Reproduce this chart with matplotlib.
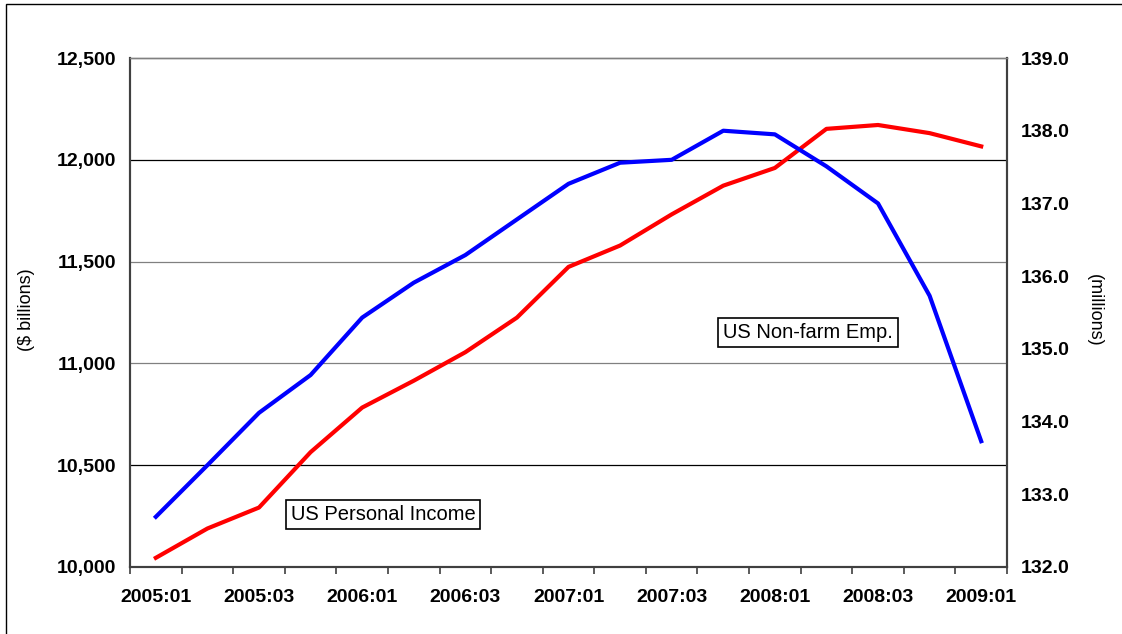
import matplotlib.pyplot as plt
from matplotlib.patches import Rectangle

plt.rcParams['font.family'] = ['Liberation Sans', 'DejaVu Sans']

quarters = ['2005:01', '2005:02', '2005:03', '2005:04',
            '2006:01', '2006:02', '2006:03', '2006:04',
            '2007:01', '2007:02', '2007:03', '2007:04',
            '2008:01', '2008:02', '2008:03', '2008:04', '2009:01']

# US personal income, $ billions (left axis)
income = [10045, 10189, 10292, 10564, 10783, 10915, 11055, 11225,
          11474, 11579, 11732, 11873, 11960, 12152, 12171, 12131, 12066]

# US non-farm employment, millions (right axis)
employment = [132.69, 133.40, 134.12, 134.64, 135.43, 135.91, 136.29, 136.78,
              137.27, 137.56, 137.60, 138.00, 137.95, 137.51, 137.00, 135.73, 133.73]

left_ticks = [10000, 10500, 11000, 11500, 12000, 12500]
right_ticks = [132.0, 133.0, 134.0, 135.0, 136.0, 137.0, 138.0, 139.0]

x = list(range(len(quarters)))

fig = plt.figure(figsize=(11.22, 6.34), dpi=100)
ax = fig.add_axes([0.1159, 0.1057, 0.7816, 0.8028])

# outer frame
fig.patches.append(Rectangle((0.0055, -0.05), 1.1, 1.044, transform=fig.transFigure,
                             fill=False, edgecolor='black', linewidth=1.0))

# horizontal gridlines
grid_colors = {10500: 'black', 11000: '#808080', 11500: '#808080', 12000: 'black'}
for v, c in grid_colors.items():
    ax.axhline(v, color=c, linewidth=0.9, zorder=1)

ax.plot(x, income, color='#ff0000', linewidth=3.0, zorder=3)
ax.set_xlim(-0.5, len(quarters) - 0.5)
ax.set_ylim(10000, 12500)
ax.set_yticks(left_ticks)
ax.set_yticklabels([f'{v:,}' for v in left_ticks])
ax.set_ylabel('($ billions)', fontsize=13)
ax.yaxis.set_label_coords(-0.108, 0.505)

ax2 = ax.twinx()
ax2.plot(x, employment, color='#0000ff', linewidth=3.0, zorder=3)
ax2.set_ylim(132, 139)
ax2.set_yticks(right_ticks)
ax2.set_yticklabels([f'{v:.1f}' for v in right_ticks])
ax2.set_ylabel('(millions)', fontsize=13, rotation=270, va='center')
ax2.yaxis.set_label_coords(1.100, 0.505)

# category axis: ticks at boundaries, labels every second quarter
ax.set_xticks([i - 0.5 for i in range(len(quarters) + 1)], minor=True)
ax.set_xticks(x[::2])
ax.set_xticklabels(quarters[::2])
ax.tick_params(axis='x', which='major', length=0, pad=16)
ax.tick_params(axis='x', which='minor', length=5, width=1.2, color='#404040')

for a in (ax, ax2):
    a.tick_params(axis='y', length=0, pad=10)
    for lbl in a.get_yticklabels() + a.get_xticklabels():
        lbl.set_fontsize(14)
        lbl.set_fontweight('bold')
    for side in ('left', 'right', 'bottom'):
        a.spines[side].set_color('#404040')
        a.spines[side].set_linewidth(1.5)
    a.spines['top'].set_color('#808080')
    a.spines['top'].set_linewidth(1.0)

ax.text(0.2885, 0.104, 'US Personal Income', transform=ax.transAxes, fontsize=14.5,
        ha='center', va='center', zorder=5,
        bbox=dict(boxstyle='square,pad=0.25', facecolor='white', edgecolor='black', linewidth=1.2))
ax2.text(0.773, 0.46, 'US Non-farm Emp.', transform=ax.transAxes, fontsize=14.5,
         ha='center', va='center', zorder=5,
         bbox=dict(boxstyle='square,pad=0.25', facecolor='white', edgecolor='black', linewidth=1.2))

plt.savefig('out.png', dpi=100)
